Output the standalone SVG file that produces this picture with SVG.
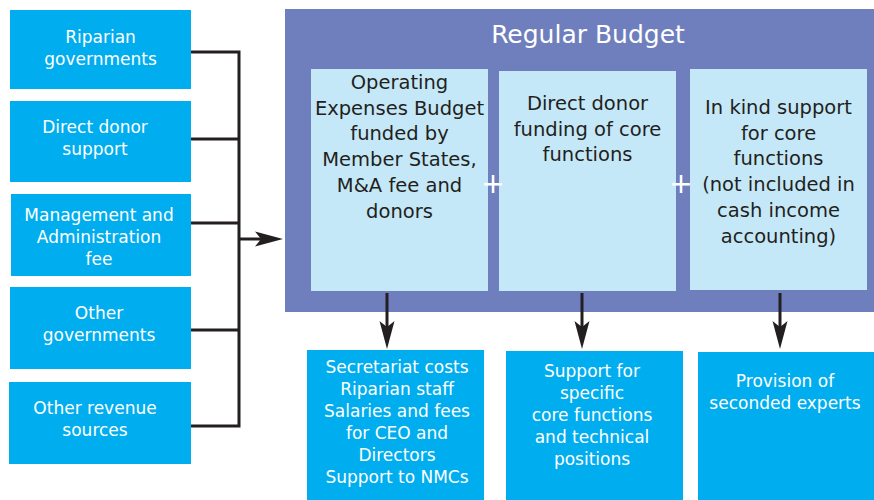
<svg xmlns="http://www.w3.org/2000/svg" width="874" height="500" viewBox="0 0 874 500">
  <style>
    .src { fill: #00AEEF; }
    .out { fill: #00AEEF; }
    .frame { fill: #6F7FBD; }
    .part { fill: #C5E8F8; }
    .wt { fill: #FFFFFF; font-family: "DejaVu Sans", "Liberation Sans", sans-serif; font-size: 17px; text-anchor: middle; }
    .dk { fill: #231F20; font-family: "DejaVu Sans", "Liberation Sans", sans-serif; font-size: 19.5px; text-anchor: middle; }
    .title { fill: #FFFFFF; font-family: "DejaVu Sans", "Liberation Sans", sans-serif; font-size: 25px; text-anchor: middle; }
    .plus { fill: #FFFFFF; font-family: "DejaVu Sans", "Liberation Sans", sans-serif; font-size: 28px; text-anchor: middle; }
    .wire { fill: none; stroke: #231F20; stroke-width: 3; }
  </style>
  <defs>
    <marker id="dart" viewBox="-28 -8 29 16" refX="-22" refY="0" markerWidth="29" markerHeight="16" markerUnits="userSpaceOnUse" orient="auto">
      <path d="M0,0 L-28,-7.5 L-22,0 L-28,7.5 Z" fill="#231F20"/>
    </marker>
  </defs>

  <rect width="874" height="500" fill="#FFFFFF"/>

  <!-- funding sources -->
  <g id="src-riparian">
    <rect class="src" x="10" y="10" width="181" height="79"/>
    <text class="wt" x="100.5" y="43">Riparian</text>
    <text class="wt" x="100.5" y="65">governments</text>
  </g>
  <g id="src-donor">
    <rect class="src" x="10" y="101" width="181" height="81"/>
    <text class="wt" x="95" y="133">Direct donor</text>
    <text class="wt" x="95" y="155">support</text>
  </g>
  <g id="src-mafee">
    <rect class="src" x="11" y="194" width="180" height="82"/>
    <text class="wt" x="99" y="221">Management and</text>
    <text class="wt" x="99" y="243">Administration</text>
    <text class="wt" x="99" y="265">fee</text>
  </g>
  <g id="src-othergov">
    <rect class="src" x="10" y="287" width="181" height="82"/>
    <text class="wt" x="99" y="319">Other</text>
    <text class="wt" x="99" y="341">governments</text>
  </g>
  <g id="src-otherrev">
    <rect class="src" x="9" y="382" width="182" height="82"/>
    <text class="wt" x="95" y="414">Other revenue</text>
    <text class="wt" x="95" y="436">sources</text>
  </g>

  <!-- regular budget frame -->
  <g id="regular-budget">
    <rect class="frame" x="285" y="9" width="589" height="303"/>
    <text class="title" x="588" y="43">Regular Budget</text>
  </g>
  <g id="opex-budget">
    <rect class="part" x="311" y="69" width="177" height="222"/>
    <text class="dk" x="399.5" y="89">Operating</text>
    <text class="dk" x="399.5" y="114.7">Expenses Budget</text>
    <text class="dk" x="399.5" y="140.4">funded by</text>
    <text class="dk" x="399.5" y="166">Member States,</text>
    <text class="dk" x="399.5" y="191.8">M&amp;A fee and</text>
    <text class="dk" x="399.5" y="217.5">donors</text>
  </g>
  <g id="direct-core">
    <rect class="part" x="499" y="71" width="177" height="220"/>
    <text class="dk" x="587.5" y="110">Direct donor</text>
    <text class="dk" x="587.5" y="135.7">funding of core</text>
    <text class="dk" x="587.5" y="161.4">functions</text>
  </g>
  <g id="inkind-core">
    <rect class="part" x="690" y="69" width="177" height="221"/>
    <text class="dk" x="778.5" y="114">In kind support</text>
    <text class="dk" x="778.5" y="139.7">for core</text>
    <text class="dk" x="778.5" y="165.4">functions</text>
    <text class="dk" x="778.5" y="191">(not included in</text>
    <text class="dk" x="778.5" y="216.8">cash income</text>
    <text class="dk" x="778.5" y="242.5">accounting)</text>
  </g>
  <g id="plus-signs">
    <text class="plus" x="493" y="193">+</text>
    <text class="plus" x="681" y="193">+</text>
  </g>

  <!-- uses of funds -->
  <g id="use-secretariat">
    <rect class="out" x="307" y="350" width="177" height="150"/>
    <text class="wt" x="397" y="373">Secretariat costs</text>
    <text class="wt" x="397" y="395">Riparian staff</text>
    <text class="wt" x="397" y="417">Salaries and fees</text>
    <text class="wt" x="397" y="439">for CEO and</text>
    <text class="wt" x="397" y="461">Directors</text>
    <text class="wt" x="397" y="483">Support to NMCs</text>
  </g>
  <g id="use-corefunctions">
    <rect class="out" x="506" y="351" width="177" height="149"/>
    <text class="wt" x="592" y="377">Support for</text>
    <text class="wt" x="592" y="399">specific</text>
    <text class="wt" x="592" y="421">core functions</text>
    <text class="wt" x="592" y="443">and technical</text>
    <text class="wt" x="592" y="465">positions</text>
  </g>
  <g id="use-seconded">
    <rect class="out" x="698" y="352" width="176" height="148"/>
    <text class="wt" x="785" y="387">Provision of</text>
    <text class="wt" x="785" y="409">seconded experts</text>
  </g>

  <!-- connectors -->
  <g id="connectors">
    <path class="wire" d="M191,52 H239 M191,139 H239 M191,223 H239 M191,330 H239 M191,426 H239 M239,50.5 V427.5"/>
    <line class="wire" x1="239" y1="239" x2="261" y2="239" marker-end="url(#dart)"/>
    <line class="wire" x1="387" y1="293" x2="387" y2="327" marker-end="url(#dart)"/>
    <line class="wire" x1="582" y1="293" x2="582" y2="327" marker-end="url(#dart)"/>
    <line class="wire" x1="780" y1="293" x2="780" y2="327" marker-end="url(#dart)"/>
  </g>
</svg>
